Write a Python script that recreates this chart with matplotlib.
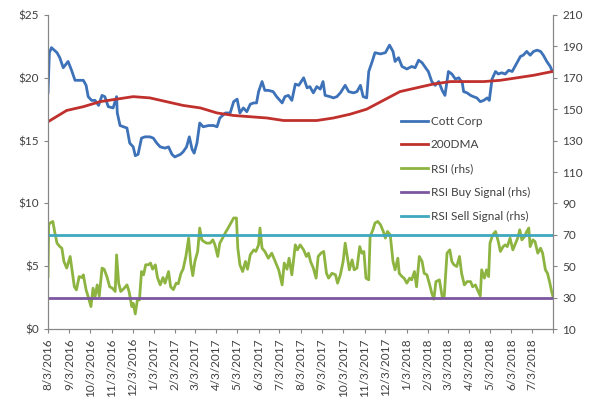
import numpy as np
import pandas as pd
import matplotlib
matplotlib.use("Agg")
from matplotlib import pyplot as plt
from matplotlib.ticker import FuncFormatter, MultipleLocator

plt.rcParams['font.family'] = ['Lato', 'DejaVu Sans']

# days after 8/3/2016 and the values read at those days
price_day = [0, 2, 5, 13, 17, 22, 29, 34, 39, 46, 51, 55, 58, 63, 68, 73, 78, 82, 87, 94,
             99, 100, 104, 109, 114, 118, 123, 126, 130, 135, 140, 147, 152, 157, 162, 169,
             174, 179, 183, 191, 195, 200, 204, 208, 211, 215, 219, 224, 232, 239, 244, 248,
             256, 263, 268, 273, 277, 282, 287, 292, 297, 301, 304, 309, 313, 318, 325, 330,
             338, 342, 347, 352, 357, 362, 369, 374, 378, 383, 388, 393, 397, 400, 407, 412,
             417, 422, 429, 434, 441, 446, 451, 455, 460, 463, 468, 472, 480, 487, 493, 498,
             501, 506, 511, 518, 525, 530, 535, 540, 545, 549, 554, 559, 564, 569, 573, 578,
             583, 588, 593, 598, 600, 605, 610, 614, 619, 624, 629, 634, 637, 641, 646, 650,
             655, 660, 665, 670, 674, 682, 686, 691, 696, 701, 706, 711, 715, 720, 725, 728]
price = [18.8, 22.0, 22.4, 22.0, 21.6, 20.8, 21.3, 20.6, 19.8, 19.8, 19.8, 19.4, 18.5, 18.2,
         18.2, 17.8, 18.6, 18.5, 17.7, 17.6, 18.5, 17.2, 16.2, 16.1, 16.0, 14.8, 14.5, 13.8,
         13.9, 15.2, 15.3, 15.3, 15.2, 14.8, 14.5, 14.4, 14.5, 13.9, 13.7, 13.9, 14.1, 14.5,
         15.3, 14.3, 14.0, 14.8, 16.4, 16.1, 16.2, 16.2, 16.1, 16.8, 17.2, 17.2, 18.1, 18.3,
         17.2, 17.6, 17.3, 17.9, 18.0, 18.0, 18.9, 19.7, 19.0, 19.0, 18.9, 18.5, 18.0, 18.5,
         18.6, 18.2, 19.5, 19.4, 20.0, 19.2, 19.3, 18.8, 19.3, 19.1, 19.7, 18.6, 18.5, 18.4,
         18.5, 18.8, 19.4, 18.9, 18.8, 18.9, 19.4, 18.5, 18.4, 20.5, 21.3, 22.0, 21.9, 22.0,
         22.6, 22.1, 21.3, 21.6, 20.9, 20.7, 20.9, 20.8, 21.4, 21.2, 20.8, 20.5, 19.7, 19.4,
         19.7, 19.0, 18.6, 20.5, 20.3, 19.9, 20.0, 19.6, 18.9, 18.8, 18.6, 18.5, 18.4, 18.1,
         18.2, 18.4, 18.2, 19.9, 20.5, 20.3, 20.4, 20.3, 20.6, 20.5, 20.9, 21.7, 21.8, 22.1,
         21.8, 22.1, 22.2, 22.1, 21.8, 21.3, 20.9, 20.5]

dma_day = [0, 27, 51, 75, 99, 123, 147, 171, 195, 220, 244, 268, 292, 316, 340, 364, 388,
           412, 436, 460, 484, 508, 532, 556, 581, 605, 629, 653, 677, 701, 728]
dma = [16.5, 17.4, 17.7, 18.1, 18.3, 18.5, 18.4, 18.1, 17.8, 17.6, 17.2, 17.0, 16.9, 16.8,
       16.6, 16.6, 16.6, 16.8, 17.1, 17.5, 18.2, 18.9, 19.2, 19.5, 19.7, 19.7, 19.7, 19.8,
       20.0, 20.2, 20.5]

rsi_day = [0, 1, 3, 7, 10, 13, 17, 20, 23, 27, 32, 34, 38, 41, 45, 49, 51, 55, 58, 62, 65,
           68, 71, 74, 78, 81, 85, 89, 93, 97, 99, 102, 105, 110, 114, 117, 121, 123, 126,
           129, 132, 135, 138, 141, 145, 148, 151, 155, 158, 162, 166, 169, 174, 177, 181,
           185, 188, 192, 195, 199, 203, 206, 209, 212, 216, 219, 222, 225, 229, 234, 238,
           241, 245, 248, 252, 257, 260, 264, 268, 272, 274, 277, 281, 285, 288, 292, 297,
           300, 304, 306, 309, 313, 318, 323, 328, 333, 338, 341, 345, 348, 352, 357, 360,
           364, 369, 373, 376, 379, 383, 387, 390, 394, 398, 402, 405, 410, 415, 418, 422,
           426, 429, 432, 435, 439, 442, 446, 450, 453, 456, 459, 463, 465, 469, 472, 476,
           480, 484, 487, 490, 494, 498, 501, 505, 507, 511, 514, 518, 522, 525, 529, 532,
           536, 540, 543, 547, 551, 554, 557, 560, 565, 569, 572, 576, 580, 583, 586, 590,
           594, 597, 601, 605, 610, 613, 617, 620, 624, 626, 630, 633, 636, 638, 642, 646,
           650, 653, 657, 660, 663, 667, 671, 675, 678, 681, 684, 688, 691, 694, 696, 700,
           703, 707, 711, 714, 718, 721, 724, 727, 729]
rsi = [43.4, 76.4, 77.5, 78.5, 71.1, 64.7, 62.5, 61.5, 53.0, 48.8, 56.2, 49.8, 37.0, 34.9,
       43.4, 42.8, 44.5, 34.9, 30.6, 24.3, 36.0, 30.6, 38.1, 31.0, 48.8, 48.1, 43.4, 36.9,
       36.0, 33.9, 57.2, 39.2, 33.9, 36.0, 38.1, 33.9, 24.3, 26.4, 19.6, 28.5, 28.5, 46.6,
       44.5, 50.9, 50.9, 52.0, 48.1, 50.9, 42.8, 38.1, 42.8, 39.2, 46.6, 36.9, 35.1, 39.2,
       38.8, 45.5, 48.1, 56.2, 67.9, 52.0, 44.0, 53.0, 59.3, 74.3, 66.8, 65.7, 64.7, 64.7,
       66.8, 63.6, 56.2, 64.7, 67.9, 72.1, 74.3, 77.5, 80.7, 80.7, 61.5, 50.9, 46.6, 53.0,
       48.1, 57.3, 60.4, 59.4, 63.6, 74.3, 61.5, 59.4, 55.1, 58.3, 53.0, 47.7, 38.1, 52.0,
       48.1, 55.1, 44.5, 63.6, 60.4, 63.6, 60.4, 56.2, 58.3, 53.0, 48.8, 42.4, 56.2, 58.3,
       59.4, 45.5, 42.4, 45.5, 44.5, 39.2, 44.5, 53.0, 64.7, 56.2, 47.7, 54.0, 47.7, 48.8,
       62.5, 58.3, 59.4, 42.4, 41.3, 68.9, 73.2, 77.5, 78.5, 76.4, 72.1, 67.9, 72.1, 70.0,
       53.0, 47.7, 55.1, 45.5, 43.4, 42.4, 39.2, 42.4, 41.3, 46.6, 36.9, 56.2, 53.0, 45.5,
       44.5, 38.1, 32.8, 29.0, 40.2, 41.3, 30.6, 31.0, 58.3, 60.4, 53.0, 50.9, 49.8, 56.2,
       45.5, 38.1, 40.2, 40.2, 36.9, 38.1, 34.9, 31.0, 47.7, 42.4, 47.7, 43.4, 64.7, 70.0,
       72.1, 65.7, 59.4, 62.5, 63.6, 62.5, 67.9, 60.4, 64.7, 67.9, 73.2, 66.8, 68.9, 72.1,
       74.3, 62.5, 66.8, 65.7, 58.3, 61.5, 58.3, 47.7, 45.5, 40.2, 33.9, 30.6]

buy_level = 30
sell_level = 70

start = np.datetime64('2016-08-03')
end = start + np.timedelta64(729, 'D')


def to_dates(days):
    return start + np.array(days).astype('timedelta64[D]')


fig = plt.figure(figsize=(6, 4.03), dpi=100)
ax = fig.add_axes([0.08, 0.1836, 0.8417, 0.7792])
ax2 = ax.twinx()

lw = 2.0
l1, = ax.plot(to_dates(price_day), price, color='#3d72b9', lw=lw, label='Cott Corp')
l2, = ax.plot(to_dates(dma_day), dma, color='#c0302c', lw=lw, label='200DMA')
l3, = ax2.plot(to_dates(rsi_day), rsi, color='#8db440', lw=lw, label='RSI (rhs)')
l4, = ax2.plot([start, end], [buy_level, buy_level], color='#7d56a0', lw=lw,
               label='RSI Buy Signal (rhs)')
l5, = ax2.plot([start, end], [sell_level, sell_level], color='#3fa8bf', lw=lw,
               label='RSI Sell Signal (rhs)')

ax.set_ylim(0, 25)
ax2.set_ylim(10, 210)
ax.yaxis.set_major_locator(MultipleLocator(5))
ax2.set_yticks(range(10, 211, 20))
ax.yaxis.set_major_formatter(FuncFormatter(lambda v, p: f"${v:.0f}"))
ax.set_xlim(start, end)

ticks = pd.date_range('2016-08-03', periods=24, freq=pd.DateOffset(months=1))
ax.set_xticks(list(ticks) + [pd.Timestamp(end)])
ax.set_xticklabels([f"{d.month}/{d.day}/{d.year}" for d in ticks] + [''], rotation=90)

grey = '#868686'
for a in (ax, ax2):
    a.spines['top'].set_visible(False)
    for s in ('left', 'right', 'bottom'):
        a.spines[s].set_color(grey)
    a.tick_params(colors=grey, labelcolor='#404040', labelsize=8.5, length=3)

fig.legend(handles=[l1, l2, l3, l4, l5], loc='upper left', bbox_to_anchor=(0.668, 0.713),
           frameon=False, fontsize=8.5, handlelength=2.3, handletextpad=0.25,
           labelspacing=1.08, labelcolor='#404040', borderpad=0, borderaxespad=0)

fig.savefig('out.png', dpi=100)
